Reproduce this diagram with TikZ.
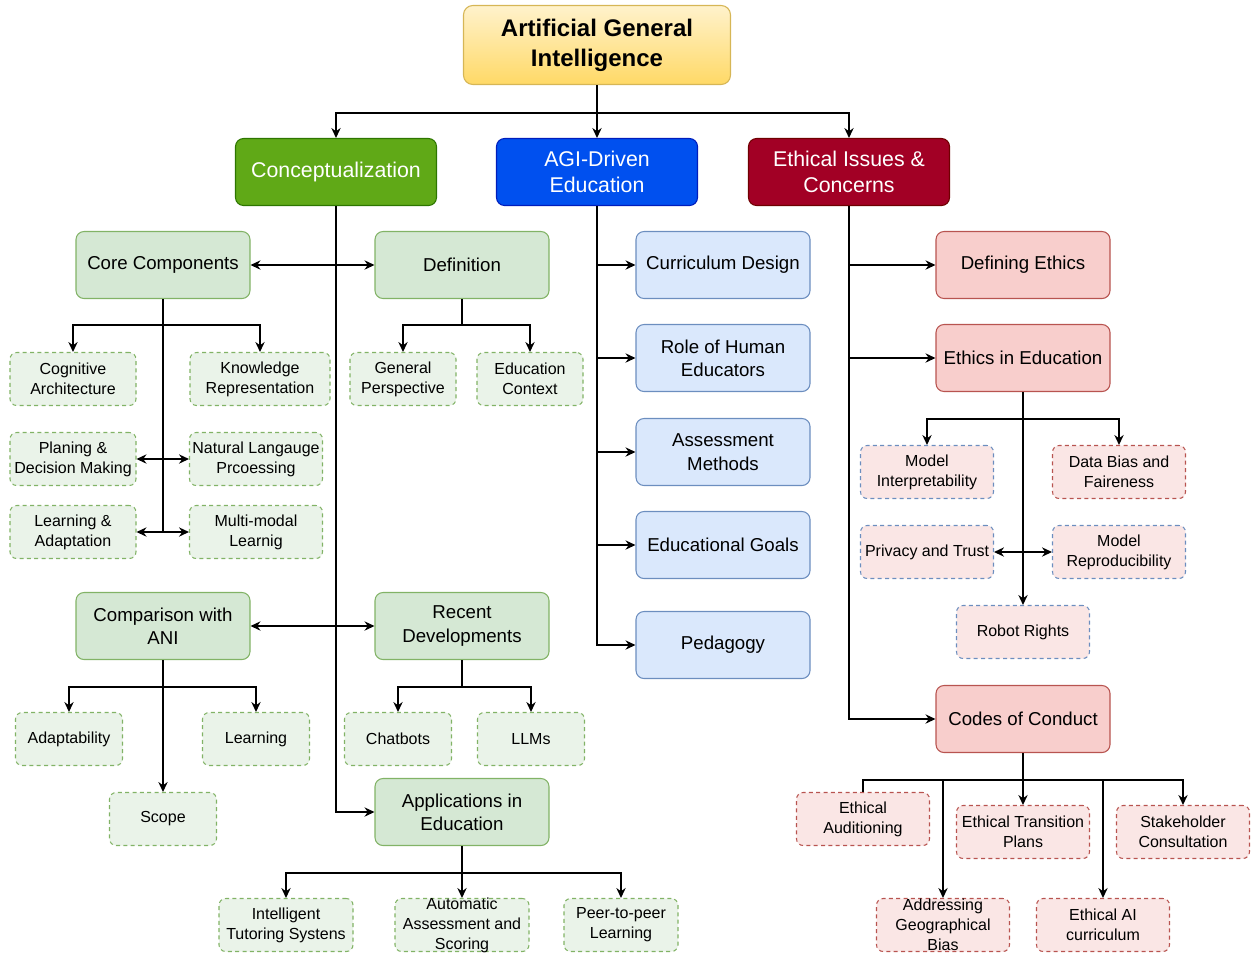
\documentclass[tikz,border=0pt]{standalone}
\usepackage{fontspec}
\setmainfont{Liberation Sans}
\usetikzlibrary{arrows.meta}

\definecolor{roottop}{HTML}{FFF2CC}
\definecolor{rootbot}{HTML}{FFD966}
\definecolor{rootline}{HTML}{D6B656}
\definecolor{conceptfill}{HTML}{60A917}
\definecolor{conceptline}{HTML}{2D7600}
\definecolor{drivenfill}{HTML}{0050EF}
\definecolor{drivenline}{HTML}{001DBC}
\definecolor{ethicfill}{HTML}{A20025}
\definecolor{ethicline}{HTML}{6F0000}
\definecolor{greenfill}{HTML}{D5E8D4}
\definecolor{greenline}{HTML}{82B366}
\definecolor{bluefill}{HTML}{DAE8FC}
\definecolor{blueline}{HTML}{6C8EBF}
\definecolor{redfill}{HTML}{F8CECC}
\definecolor{redline}{HTML}{B85450}
\definecolor{greenleaf}{HTML}{EAF3E9}
\definecolor{redleaf}{HTML}{FAE6E5}

\tikzset{
  rootbox/.style={draw=rootline,top color=roottop,bottom color=rootbot,rounded corners=7pt,
    minimum width=200.25pt,minimum height=59.25pt,align=center,line width=0.8pt,
    font=\fontsize{18}{22.5}\selectfont\bfseries},
  headbox/.style={rounded corners=6pt,minimum width=150.75pt,minimum height=50.25pt,
    align=center,text=white,line width=0.8pt,font=\fontsize{16}{20}\selectfont},
  subbox/.style={rounded corners=6pt,minimum width=130.5pt,minimum height=50.25pt,
    align=center,line width=0.8pt,font=\fontsize{14}{17.5}\selectfont},
  greenbox/.style={subbox,fill=greenfill,draw=greenline},
  bluebox/.style={subbox,fill=bluefill,draw=blueline},
  redbox/.style={subbox,fill=redfill,draw=redline},
  leafbox/.style={rounded corners=5pt,dashed,dash pattern=on 3pt off 2.5pt,line width=0.8pt,
    minimum width=99.75pt,minimum height=39.75pt,inner xsep=2pt,inner ysep=0pt,
    align=center,font=\fontsize{12}{15}\selectfont},
  greenleafbox/.style={leafbox,fill=greenleaf,draw=greenline},
  blueleafbox/.style={leafbox,fill=redleaf,draw=blueline},
  redleafbox/.style={leafbox,fill=redleaf,draw=redline},
  link/.style={line width=1pt,->},
  trunk/.style={line width=1pt}
}

\begin{document}
\begin{tikzpicture}[x=0.75pt,y=-0.75pt,>={Stealth[length=7.5pt,width=7pt,inset=2.5pt]}]
\useasboundingbox (0,0) rectangle (1259,958);

\node (agi) at (597,45) [rootbox] {Artificial General\\Intelligence};
\node (concept) at (336,172) [headbox,fill=conceptfill,draw=conceptline] {Conceptualization};
\node (agidriven) at (597,172) [headbox,fill=drivenfill,draw=drivenline] {AGI-Driven\\Education};
\node (ethical) at (849,172) [headbox,fill=ethicfill,draw=ethicline] {Ethical Issues \&\\Concerns};

\node (core) at (163,265) [greenbox] {Core Components};
\node (definition) at (462,265) [greenbox] {Definition};
\node (comparison) at (163,626) [greenbox] {Comparison with\\ANI};
\node (recent) at (462,626) [greenbox] {Recent\\Developments};
\node (appedu) at (462,812) [greenbox] {Applications in\\Education};

\node (cogarch) at (73,379) [greenleafbox,minimum width=94.5pt] {Cognitive\\Architecture};
\node (knowrep) at (260,379) [greenleafbox,minimum width=105pt] {Knowledge\\Representation};
\node (planning) at (73,459) [greenleafbox,minimum width=94.5pt] {Planing \&\\Decision Making};
\node (nlp) at (256,459) [greenleafbox] {Natural Langauge\\Prcoessing};
\node (learnadapt) at (73,532) [greenleafbox,minimum width=94.5pt] {Learning \&\\Adaptation};
\node (multimodal) at (256,532) [greenleafbox] {Multi-modal\\Learnig};

\node (genpersp) at (403,379) [greenleafbox,minimum width=79.5pt] {General\\Perspective};
\node (educontext) at (530,379) [greenleafbox,minimum width=79.5pt] {Education\\Context};

\node (adapt) at (69,739) [greenleafbox,minimum width=80.25pt] {Adaptability};
\node (learning) at (256,739) [greenleafbox,minimum width=80.25pt] {Learning};
\node (scope) at (163,819) [greenleafbox,minimum width=80.25pt] {Scope};
\node (chatbots) at (398,739) [greenleafbox,minimum width=80.25pt] {Chatbots};
\node (llms) at (531,739) [greenleafbox,minimum width=80.25pt] {LLMs};

\node (its) at (286,925) [greenleafbox,minimum width=100.5pt] {Intelligent\\Tutoring Systens};
\node (autoassess) at (462,925) [greenleafbox,minimum width=100.5pt,inner ysep=-4pt] {Automatic\\Assessment and\\Scoring};
\node (peer) at (621,925) [greenleafbox,minimum width=85.5pt] {Peer-to-peer\\Learning};

\node (curriculum) at (723,265) [bluebox] {Curriculum Design};
\node (humanedu) at (723,358) [bluebox] {Role of Human\\Educators};
\node (assessment) at (723,452) [bluebox] {Assessment\\Methods};
\node (goals) at (723,545) [bluebox] {Educational Goals};
\node (pedagogy) at (723,645) [bluebox] {Pedagogy};

\node (defethics) at (1023,265) [redbox] {Defining Ethics};
\node (ethinedu) at (1023,358) [redbox] {Ethics in Education};
\node (codes) at (1023,719) [redbox] {Codes of Conduct};

\node (modelint) at (927,472) [blueleafbox] {Model\\Interpretability};
\node (databias) at (1119,472) [redleafbox] {Data Bias and\\Faireness};
\node (privacy) at (927,552) [blueleafbox] {Privacy and Trust};
\node (reproduc) at (1119,552) [blueleafbox] {Model\\Reproducibility};
\node (robot) at (1023,632) [blueleafbox] {Robot Rights};

\node (auditing) at (863,819) [redleafbox] {Ethical\\Auditioning};
\node (transition) at (1023,832) [redleafbox] {Ethical Transition\\Plans};
\node (stakeholder) at (1183,832) [redleafbox] {Stakeholder\\Consultation};
\node (geobias) at (943,925) [redleafbox,inner ysep=-4pt] {Addressing\\Geographical\\Bias};
\node (aicurric) at (1103,925) [redleafbox] {Ethical AI\\curriculum};

\draw[link] (agi.south) -- ++(0,28) -| (concept.north);
\draw[link] (agi.south) -- (agidriven.north);
\draw[link] (agi.south) -- ++(0,28) -| (ethical.north);

\draw[link] (concept.south) |- (appedu.west);
\draw[link,<->] (core.east) -- (definition.west);
\draw[link,<->] (comparison.east) -- (recent.west);

\draw[link] (core.south) -- ++(0,26) -| (cogarch.north);
\draw[link] (core.south) -- ++(0,26) -| (knowrep.north);
\draw[trunk] (core.south) -- (core.south |- learnadapt.east);
\draw[link,<->] (planning.east) -- (nlp.west);
\draw[link,<->] (learnadapt.east) -- (multimodal.west);

\draw[link] (definition.south) -- ++(0,26) -| (genpersp.north);
\draw[link] (definition.south) -- ++(0,26) -| (educontext.north);

\draw[link] (comparison.south) -- ++(0,27) -| (adapt.north);
\draw[link] (comparison.south) -- ++(0,27) -| (learning.north);
\draw[link] (comparison.south) -- (scope.north);

\draw[link] (recent.south) -- ++(0,27) -| (chatbots.north);
\draw[link] (recent.south) -- ++(0,27) -| (llms.north);

\draw[link] (appedu.south) -- ++(0,27) -| (its.north);
\draw[link] (appedu.south) -- (autoassess.north);
\draw[link] (appedu.south) -- ++(0,27) -| (peer.north);

\draw[link] (agidriven.south) |- (curriculum.west);
\draw[link] (agidriven.south) |- (humanedu.west);
\draw[link] (agidriven.south) |- (assessment.west);
\draw[link] (agidriven.south) |- (goals.west);
\draw[link] (agidriven.south) |- (pedagogy.west);

\draw[link] (ethical.south) |- (defethics.west);
\draw[link] (ethical.south) |- (ethinedu.west);
\draw[link] (ethical.south) |- (codes.west);

\draw[link] (ethinedu.south) -- ++(0,27) -| (modelint.north);
\draw[link] (ethinedu.south) -- ++(0,27) -| (databias.north);
\draw[link] (ethinedu.south) -- (robot.north);
\draw[link,<->] (privacy.east) -- (reproduc.west);

\draw[trunk] (codes.south) -- ++(0,27) -| (auditing.north);
\draw[link] (codes.south) -- ++(0,27) -| (geobias.north);
\draw[link] (codes.south) -- (transition.north);
\draw[link] (codes.south) -- ++(0,27) -| (aicurric.north);
\draw[link] (codes.south) -- ++(0,27) -| (stakeholder.north);

\end{tikzpicture}
\end{document}
